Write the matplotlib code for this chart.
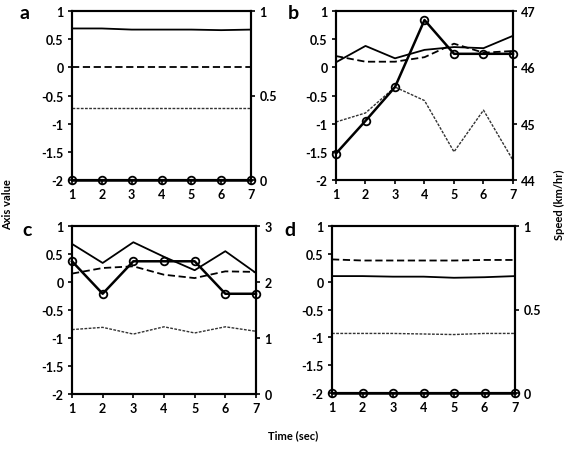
import numpy as np
import matplotlib
matplotlib.use("Agg")
import matplotlib.pyplot as plt

plt.rcParams['font.family'] = ['Lato', 'DejaVu Sans']
plt.rcParams['font.weight'] = 'bold'

# Time axis
time = [1, 2, 3, 4, 5, 6, 7]

# Panel data: solid, dashed, dotted on left axis; speed (circles) on right axis
a_solid = [0.69, 0.69, 0.67, 0.67, 0.67, 0.66, 0.67]
a_dash = [0.0, 0.0, 0.0, 0.0, 0.0, 0.0, 0.0]
a_dot = [-0.72, -0.72, -0.72, -0.72, -0.72, -0.72, -0.72]
a_speed = [0, 0, 0, 0, 0, 0, 0]

b_solid = [0.09, 0.38, 0.16, 0.31, 0.36, 0.34, 0.56]
b_dash = [0.2, 0.1, 0.1, 0.18, 0.42, 0.26, 0.29]
b_dot = [-0.97, -0.81, -0.35, -0.59, -1.5, -0.76, -1.65]
b_speed = [44.47, 45.05, 45.65, 46.84, 46.24, 46.24, 46.24]

c_solid = [0.68, 0.34, 0.71, 0.45, 0.21, 0.55, 0.16]
c_dash = [0.15, 0.25, 0.28, 0.13, 0.07, 0.19, 0.18]
c_dot = [-0.85, -0.81, -0.93, -0.80, -0.91, -0.80, -0.88]
c_speed = [2.37, 1.79, 2.37, 2.37, 2.37, 1.79, 1.79]

d_solid = [0.1, 0.1, 0.09, 0.09, 0.07, 0.08, 0.1]
d_dash = [0.4, 0.38, 0.38, 0.38, 0.38, 0.39, 0.39]
d_dot = [-0.93, -0.93, -0.93, -0.94, -0.95, -0.93, -0.93]
d_speed = [0, 0, 0, 0, 0, 0, 0]

panels = [
    ("a", a_solid, a_dash, a_dot, a_speed, (0, 1), [0, 0.5, 1], ["0", "0.5", "1"]),
    ("b", b_solid, b_dash, b_dot, b_speed, (44, 47), [44, 45, 46, 47], ["44", "45", "46", "47"]),
    ("c", c_solid, c_dash, c_dot, c_speed, (0, 3), [0, 1, 2, 3], ["0", "1", "2", "3"]),
    ("d", d_solid, d_dash, d_dot, d_speed, (0, 1), [0, 0.5, 1], ["0", "0.5", "1"]),
]

W, H = 567, 452
boxes = [(72, 12, 251, 181), (336, 12, 513, 181), (72, 227, 256, 395), (332, 227, 515, 394)]
letter_pos = [(20, 5), (288, 5), (22, 222), (284, 222)]

fig = plt.figure(figsize=(5.67, 4.52), dpi=100)

for (name, solid, dash, dot, speed, rlim, rticks, rlabels), box, lp in zip(panels, boxes, letter_pos):
    x0, y0, x1, y1 = box
    ax = fig.add_axes([x0 / W, 1 - y1 / H, (x1 - x0) / W, (y1 - y0) / H])
    ax.plot(time, solid, color="black", lw=1.3, ls="-")
    ax.plot(time, dash, color="black", lw=1.3, ls=(0, (4, 2)))
    ax.plot(time, dot, color="#333333", lw=1.0, ls=(0, (2, 1)))
    ax.set_xlim(1, 7)
    ax.set_ylim(-2, 1)
    ax.set_xticks(time)
    ax.set_yticks([-2, -1.5, -1, -0.5, 0, 0.5, 1])
    ax.set_yticklabels(["-2", "-1.5", "-1", "-0.5", "0", "0.5", "1"])
    ax.tick_params(labelsize=9, length=3, width=1.2, pad=3)
    for s in ax.spines.values():
        s.set_linewidth(1.5)

    ax2 = ax.twinx()
    ax2.plot(time, speed, color="black", lw=1.8, marker="o", ms=5.5,
             mfc="none", mec="black", mew=1.3, clip_on=False, zorder=5)
    ax2.set_ylim(*rlim)
    ax2.set_yticks(rticks)
    ax2.set_yticklabels(rlabels)
    ax2.tick_params(labelsize=9, length=3, width=1.2, pad=3)
    for s in ax2.spines.values():
        s.set_linewidth(1.5)

    fig.text(lp[0] / W, 1 - lp[1] / H, name, fontsize=14, fontweight="bold",
             ha="left", va="top")

fig.text(8 / W, 1 - 205 / H, "Axis value", rotation=90, fontsize=8,
         fontweight="bold", ha="center", va="center")
fig.text(559 / W, 1 - 205 / H, "Speed (km/hr)", rotation=90, fontsize=8,
         fontweight="bold", ha="center", va="center")
fig.text(293 / W, 1 - 436 / H, "Time (sec)", fontsize=8,
         fontweight="bold", ha="center", va="center")

fig.savefig("out.png", dpi=100, facecolor="white")
